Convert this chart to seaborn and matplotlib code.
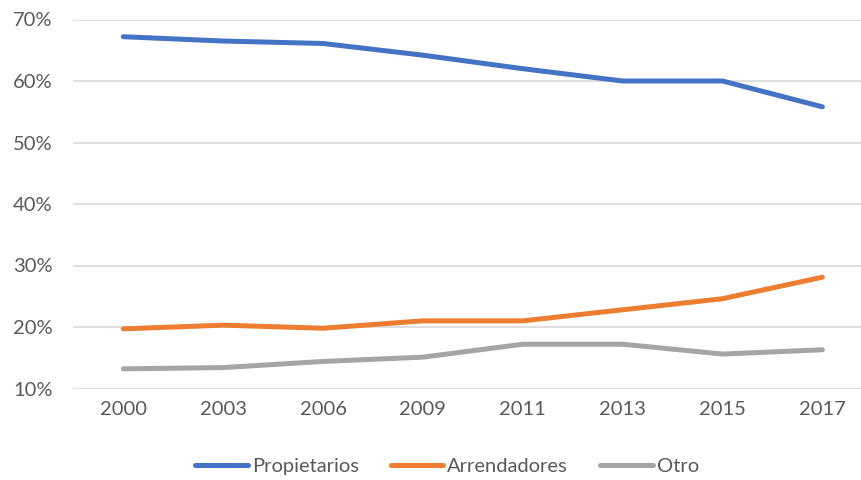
import matplotlib
matplotlib.use("Agg")
import matplotlib.pyplot as plt
import seaborn as sns
import pandas as pd
from matplotlib.ticker import FuncFormatter

years = ["2000", "2003", "2006", "2009", "2011", "2013", "2015", "2017"]
propietarios = [67.2, 66.5, 66.1, 64.2, 62.0, 60.0, 60.0, 55.8]
arrendadores = [19.7, 20.3, 19.8, 21.0, 21.0, 22.8, 24.6, 28.1]
otro = [13.2, 13.4, 14.4, 15.1, 17.2, 17.2, 15.6, 16.3]

series_names = ["Propietarios", "Arrendadores", "Otro"]
colors = ["#4472C4", "#ED7D31", "#A5A5A5"]

df = pd.DataFrame({
    "Año": years * 3,
    "Valor": propietarios + arrendadores + otro,
    "Serie": [s for s in series_names for _ in years],
})

sns.set_theme(style="white")
plt.rcParams["font.family"] = ["Lato", "DejaVu Sans"]

fig = plt.figure(figsize=(8.61, 4.8), dpi=100)
ax = fig.add_axes([73.4 / 861, 1 - 388.5 / 480, (872.3 - 73.4) / 861, (388.5 - 19.5) / 480])

sns.lineplot(data=df, x="Año", y="Valor", hue="Serie", hue_order=series_names,
             palette=colors, linewidth=3.6, ax=ax, legend=True, sort=False)
for line in ax.get_lines():
    line.set_solid_capstyle("round")
    line.set_solid_joinstyle("round")

ax.set_xlim(-0.5, 7.5)
ax.set_ylim(10, 70)
ax.set_yticks(range(10, 71, 10))
ax.yaxis.set_major_formatter(FuncFormatter(lambda v, _: f"{v:.0f}%"))
ax.set_xlabel("")
ax.set_ylabel("")
ax.grid(axis="y", color="#D9D9D9", linewidth=1.2)
ax.set_axisbelow(True)
for sp in ax.spines.values():
    sp.set_visible(False)
ax.tick_params(axis="both", length=0, labelsize=14.5, colors="#595959")
ax.tick_params(axis="x", pad=9)
ax.tick_params(axis="y", pad=15)

leg = ax.legend(loc="center", bbox_to_anchor=(447 / 861, 1 - 466 / 480),
                bbox_transform=fig.transFigure, ncol=3, frameon=False,
                fontsize=14.5, handlelength=2.6, handletextpad=0.2,
                columnspacing=1.6)
for h in leg.get_lines():
    h.set_linewidth(3.6)
    h.set_solid_capstyle("round")
for t in leg.get_texts():
    t.set_color("#595959")

fig.savefig("out.png", dpi=100)
